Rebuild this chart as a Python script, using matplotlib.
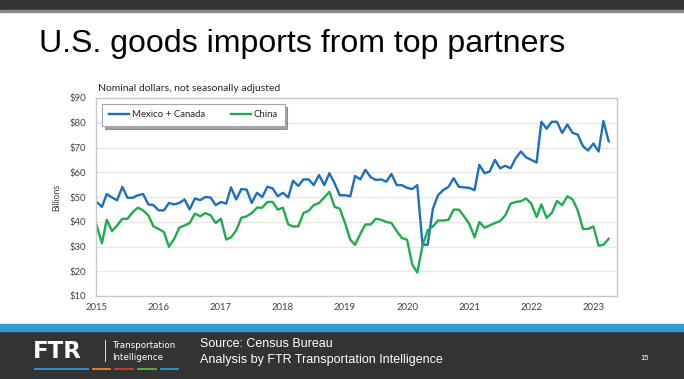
import matplotlib.pyplot as plt
import pandas as pd
from matplotlib.patches import Rectangle
from matplotlib.lines import Line2D

# monthly imports, billions of dollars, Jan 2015 - Apr 2023
mex_can = [48, 46, 51.2, 49.8, 48.7, 54.1, 49.7, 49.7, 50.7, 51.2, 47, 46.7,
           44.6, 44.6, 47.6, 47, 47.6, 49, 45, 49.4, 48.7, 50, 49.8, 46.7,
           48, 47.3, 53.9, 49, 53.2, 53, 47.6, 51.7, 50, 54.1, 53.5, 50.3,
           51.7, 49.8, 56.6, 54.5, 57.1, 57.1, 54.8, 58.9, 54.8, 59.6, 55.5, 50.7,
           50.7, 50.3, 58.5, 57.1, 61, 58, 56.9, 57.1, 56.2, 59.3, 54.8, 54.8,
           53.7, 53.2, 54.8, 30.7, 30.7, 45.3, 50.7, 52.8, 54.1, 57.6, 54.1, 53.9,
           53.7, 52.8, 63, 59.6, 60.3, 65, 61.6, 62.6, 61.6, 65.7, 68.4, 66,
           65, 63.9, 80.4, 77.6, 80.4, 80.4, 75.9, 79.3, 75.9, 75.2, 70.5, 68.8,
           71.6, 68.4, 80.7, 72.5]
china = [38.5, 31.3, 40.8, 36.2, 38.5, 41.2, 41.2, 43.9, 45.7, 44.6, 42.6, 38.1,
         37.1, 35.8, 29.9, 33.1, 37.6, 38.5, 39.5, 43.3, 42.2, 43.5, 42.6, 39.5,
         41.2, 32.8, 33.7, 36.5, 41.6, 42.2, 43.5, 45.7, 45.7, 48, 48, 44.9,
         45.7, 38.9, 38.1, 38.1, 43.5, 44.4, 46.7, 47.6, 49.8, 52.1, 46, 45.3,
         39.5, 32.7, 30.7, 35.1, 38.9, 38.9, 41.2, 40.8, 39.9, 39.5, 36.2, 33.5,
         32.7, 22.6, 19.5, 30.3, 36.5, 38.1, 40.5, 40.5, 40.8, 44.9, 44.9, 42.2,
         39.2, 33.7, 39.9, 37.6, 38.5, 39.5, 40.3, 42.6, 47.3, 48, 48.3, 49.4,
         47.3, 41.9, 47, 41.6, 43.5, 48.4, 46.7, 50.3, 49, 44.6, 37.1, 37.1,
         38.1, 30.3, 30.7, 33.1]
years = list(range(2015, 2024))
y_ticks = [10, 20, 30, 40, 50, 60, 70, 80, 90]

months = pd.date_range("2015-01-01", periods=len(mex_can), freq="MS")

W, H = 684, 379


def fx(x):
    return x / W


def fy(y):
    return 1 - y / H


fig = plt.figure(figsize=(W / 100, H / 100), dpi=100)
fig.patch.set_facecolor("white")

# slide decorations
fig.add_artist(Rectangle((0, fy(10)), 1, 10 / H, transform=fig.transFigure,
                         color="#333333", zorder=0))
fig.add_artist(Rectangle((0, fy(12)), 1, 2 / H, transform=fig.transFigure,
                         color="#8a8a8a", zorder=0))
fig.add_artist(Rectangle((0, 0), 1, fy(331), transform=fig.transFigure,
                         color="#333333", zorder=0))
fig.add_artist(Rectangle((0, fy(331)), 1, 7 / H, transform=fig.transFigure,
                         color="#2e9bd6", zorder=0))

fig.text(fx(39), fy(44), "U.S. goods imports from top partners",
         fontsize=23.1, family="Liberation Sans", va="center", ha="left",
         color="black")

# chart
ax = fig.add_axes([fx(96), fy(296), fx(617) - fx(96), (296 - 98) / H])
ax.plot(months, mex_can, color="#1c6fbe", lw=1.7, label="Mexico + Canada",
        solid_joinstyle="round")
ax.plot(months, china, color="#1fac50", lw=1.7, label="China",
        solid_joinstyle="round")

ax.set_ylim(10, 90)
ax.set_yticks(y_ticks)
ax.set_yticklabels([f"${v}" for v in y_ticks])
ax.set_xlim(pd.Timestamp("2014-12-28"), pd.Timestamp("2023-05-20"))
ax.set_xticks([pd.Timestamp(f"{y}-01-01") for y in years])
ax.set_xticklabels([str(y) for y in years])
ax.tick_params(length=0, labelsize=6.8, labelcolor="#404040")
ax.tick_params(axis="x", pad=5)
ax.tick_params(axis="y", pad=7)
for lab in ax.get_xticklabels() + ax.get_yticklabels():
    lab.set_family("Lato")
ax.grid(axis="y", color="#ebe7df", lw=0.9)
ax.set_axisbelow(True)
for s in ax.spines.values():
    s.set_color("#c8c8c8")
    s.set_linewidth(1)

ax.set_ylabel("Billions", fontsize=6.2, family="Lato", color="#404040",
              labelpad=6)
ax.text(0.003, 1.025, "Nominal dollars, not seasonally adjusted",
        transform=ax.transAxes, fontsize=7.5, family="Lato", color="#262626",
        ha="left", va="bottom")

leg = ax.legend(loc="upper left", bbox_to_anchor=(0.002, 0.995), ncol=2,
                frameon=True, fancybox=False, shadow=True,
                handlelength=2.1, columnspacing=2.7, borderpad=0.7,
                handletextpad=0.3, prop={"family": "Lato", "size": 6.9})
leg.get_frame().set_edgecolor("#a6a6a6")
leg.get_frame().set_linewidth(0.8)
for t in leg.get_texts():
    t.set_color("#262626")

# footer
fig.text(fx(33), fy(351), "FTR", fontsize=16.5, fontweight="heavy",
         family="DejaVu Sans", color="white", va="center", ha="left")
fig.add_artist(Line2D([fx(105), fx(105)], [fy(340), fy(361)],
                      transform=fig.transFigure, color="white", lw=0.6))
fig.text(fx(112), fy(345), "Transportation", fontsize=6.3, color="white",
         family="Liberation Sans Narrow", va="center", ha="left")
fig.text(fx(112), fy(357), "Intelligence", fontsize=6.3, color="white",
         family="Liberation Sans Narrow", va="center", ha="left")
dashes = [(35, 88, "#2e9bd6"), (93, 110, "#e88a2a"), (115, 133, "#d6382e"),
          (138, 156, "#5cb646"), (161, 178, "#2e9bd6")]
for x0, x1, c in dashes:
    fig.add_artist(Line2D([fx(x0), fx(x1)], [fy(369), fy(369)],
                          transform=fig.transFigure, color=c, lw=1.3))
fig.text(fx(200), fy(344), "Source: Census Bureau", fontsize=9,
         family="Liberation Sans", color="white", va="center", ha="left")
fig.text(fx(200), fy(360), "Analysis by FTR Transportation Intelligence",
         fontsize=9, family="Liberation Sans", color="white", va="center",
         ha="left")
fig.text(fx(645), fy(359), "15", fontsize=5.5, family="Liberation Sans",
         color="white", va="center", ha="center")

fig.savefig("out.png", dpi=100)
